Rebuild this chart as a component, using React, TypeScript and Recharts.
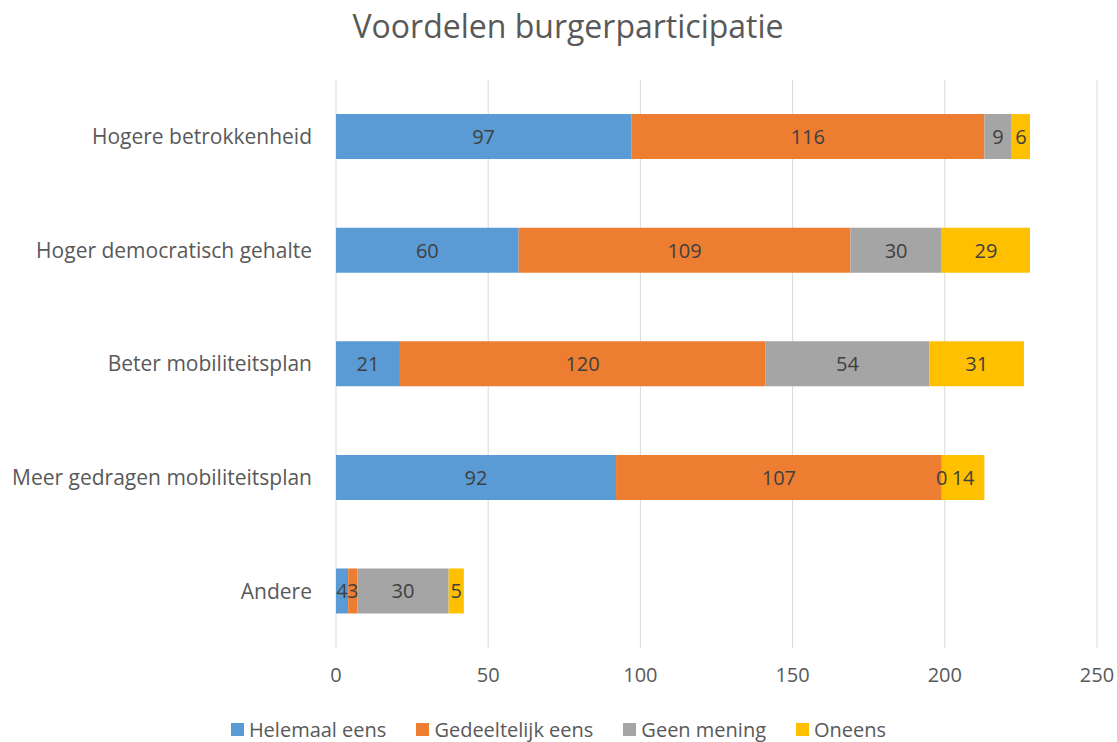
import { BarChart, Bar, XAxis, YAxis, CartesianGrid, LabelList } from 'recharts';

const categories = [
  'Hogere betrokkenheid',
  'Hoger democratisch gehalte',
  'Beter mobiliteitsplan',
  'Meer gedragen mobiliteitsplan',
  'Andere',
];
const helemaalEens = [97, 60, 21, 92, 4];
const gedeeltelijkEens = [116, 109, 120, 107, 3];
const geenMening = [9, 30, 54, 0, 30];
const oneens = [6, 29, 31, 14, 5];
const xTicks = [0, 50, 100, 150, 200, 250];

const series = [
  { key: 'a', name: 'Helemaal eens', color: '#5B9BD5' },
  { key: 'b', name: 'Gedeeltelijk eens', color: '#ED7D31' },
  { key: 'c', name: 'Geen mening', color: '#A5A5A5' },
  { key: 'd', name: 'Oneens', color: '#FFC000' },
];

const data = categories.map((name, i) => ({
  name,
  a: helemaalEens[i],
  b: gedeeltelijkEens[i],
  c: geenMening[i],
  d: oneens[i],
}));

const font = '"Open Sans", "Noto Sans", sans-serif';
const textColor = '#595959';

// centred value label; a zero segment gets its "0" on the boundary
const renderLabel = (props: any) => {
  const { x, y, width, height, value } = props;
  if (value == null) return null;
  const cx = value === 0 ? Number(x) : Number(x) + Number(width) / 2;
  return (
    <text
      x={cx}
      y={Number(y) + Number(height) / 2}
      textAnchor="middle"
      dominantBaseline="central"
      fill="#404040"
      fontSize={20}
      fontFamily={font}
    >
      {value}
    </text>
  );
};

export default function App() {
  return (
    <div style={{ position: 'absolute', left: 0, top: 0, width: 1117, height: 742, background: '#fff', fontFamily: font }}>
      <div style={{ position: 'absolute', top: 4, left: 0, width: 1136, textAlign: 'center', fontSize: 32, color: textColor }}>
        Voordelen burgerparticipatie
      </div>
      <BarChart
        width={1117}
        height={742}
        data={data}
        layout="vertical"
        margin={{ top: 80, right: 20, left: 0, bottom: 54 }}
        barCategoryGap="30%"
      >
        <CartesianGrid horizontal={false} stroke="#d9d9d9" />
        <XAxis
          type="number"
          domain={[0, 250]}
          ticks={xTicks}
          axisLine={false}
          tickLine={false}
          height={40}
          tickMargin={14}
          tick={{ fill: textColor, fontSize: 20, fontFamily: font }}
        />
        <YAxis
          type="category"
          dataKey="name"
          width={336}
          axisLine={false}
          tickLine={false}
          tickMargin={18}
          tick={{ fill: textColor, fontSize: 21, fontFamily: font }}
        />
        {series.map((s) => (
          <Bar
            key={s.key}
            dataKey={s.key}
            name={s.name}
            stackId="1"
            fill={s.color}
            minPointSize={1}
            isAnimationActive={false}
          >
            <LabelList dataKey={s.key} content={renderLabel} />
          </Bar>
        ))}
      </BarChart>
      <div style={{ position: 'absolute', top: 716, left: 0, width: 1117, display: 'flex', justifyContent: 'center', gap: 30, fontSize: 20, color: textColor }}>
        {series.map((s) => (
          <div key={s.key} style={{ display: 'flex', alignItems: 'center' }}>
            <span style={{ display: 'inline-block', width: 13, height: 13, background: s.color, marginRight: 5 }} />
            {s.name}
          </div>
        ))}
      </div>
    </div>
  );
}
